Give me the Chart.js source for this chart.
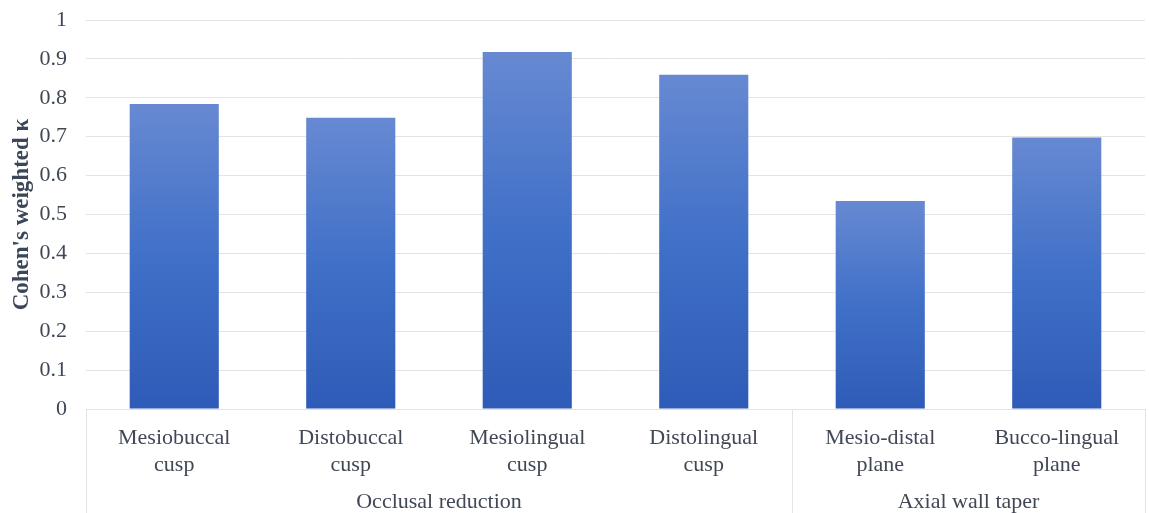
<!DOCTYPE html>
<html>
<head>
<meta charset="utf-8">
<script src="https://cdn.jsdelivr.net/npm/chart.js@4/dist/chart.umd.min.js"></script>
<style>
  html, body { margin: 0; padding: 0; background: #fff; }
  #wrap { width: 1149px; height: 513px; }
</style>
</head>
<body>
<div id="wrap"><canvas id="chart" width="1149" height="513"></canvas></div>
<script>
// categories (two-line labels) and the group they belong to
const categories = [
    ['Mesiobuccal', 'cusp'],
    ['Distobuccal', 'cusp'],
    ['Mesiolingual', 'cusp'],
    ['Distolingual', 'cusp'],
    ['Mesio-distal', 'plane'],
    ['Bucco-lingual', 'plane']
];
const groupNames = ['Occlusal reduction', 'Axial wall taper'];
const groupSizes = [4, 2];

// Cohen's weighted kappa per category
const kappaValues = [0.784, 0.749, 0.918, 0.859, 0.535, 0.698];

const yTicks = [0, 0.1, 0.2, 0.3, 0.4, 0.5, 0.6, 0.7, 0.8, 0.9, 1];

const textColor = '#404856';
const gridColor = '#e3e3e3';
const serif = "'Liberation Serif', 'Times New Roman', serif";

// each bar gets its own top-to-bottom gradient, like the Excel fill
function barGradient(context) {
    const chart = context.chart;
    const y = chart.scales.y;
    if (!chart.chartArea || !y || context.raw === undefined) return '#4472c4';
    const top = y.getPixelForValue(context.raw);
    const base = y.getPixelForValue(0);
    const g = chart.ctx.createLinearGradient(0, top, 0, base);
    g.addColorStop(0, '#6789d2');
    g.addColorStop(0.5, '#4070c8');
    g.addColorStop(1, '#2e5bb7');
    return g;
}

// draws the second row of x labels (group names) and the separator lines
const groupAxis = {
    id: 'groupAxis',
    afterDraw(chart) {
        const { ctx, scales: { x }, chartArea } = chart;
        const bottom = chart.height;
        const half = (x.getPixelForValue(1) - x.getPixelForValue(0)) / 2;
        ctx.save();
        ctx.strokeStyle = gridColor;
        ctx.lineWidth = 1;
        let start = 0;
        const edges = [x.getPixelForValue(0) - half];
        groupSizes.forEach((n, gi) => {
            const left = x.getPixelForValue(start) - half;
            const right = x.getPixelForValue(start + n - 1) + half;
            edges.push(right);
            ctx.fillStyle = textColor;
            ctx.font = '22px ' + serif;
            ctx.textAlign = 'center';
            ctx.textBaseline = 'middle';
            ctx.fillText(groupNames[gi], (left + right) / 2, 502);
            start += n;
        });
        edges.forEach(px => {
            const xx = Math.round(px) + 0.5;
            ctx.beginPath();
            ctx.moveTo(xx, chartArea.bottom);
            ctx.lineTo(xx, bottom);
            ctx.stroke();
        });
        ctx.restore();
    }
};

new Chart(document.getElementById('chart'), {
    type: 'bar',
    data: {
        labels: categories,
        datasets: [{
            label: "Cohen's weighted κ",
            data: kappaValues,
            backgroundColor: barGradient,
            borderWidth: 0,
            categoryPercentage: 1,
            barPercentage: 0.505
        }]
    },
    options: {
        responsive: false,
        animation: false,
        layout: { padding: { top: 20, right: 4, left: 0, bottom: 0 } },
        plugins: {
            legend: { display: false },
            tooltip: { enabled: false }
        },
        scales: {
            y: {
                min: 0,
                max: 1,
                afterBuildTicks: s => { s.ticks = yTicks.map(v => ({ value: v })); },
                afterFit: s => {
                    s.width = 86;
                    s.paddingTop = 0;
                    s.paddingBottom = 0;
                },
                border: { display: false },
                grid: { color: gridColor, drawTicks: false },
                ticks: {
                    color: textColor,
                    padding: 19,
                    font: { family: serif, size: 22 },
                    callback: v => String(v)
                },
                title: {
                    display: true,
                    text: "Cohen's weighted κ",
                    color: '#3b4759',
                    padding: { top: 8, bottom: 0 },
                    font: { family: serif, size: 23, weight: 'bold' }
                }
            },
            x: {
                afterFit: s => {
                    s.height = 104;
                    s.paddingLeft = 0;
                    s.paddingRight = 0;
                },
                border: { display: true, color: gridColor },
                grid: { display: false },
                ticks: {
                    color: textColor,
                    padding: 8,
                    maxRotation: 0,
                    autoSkip: false,
                    font: { family: serif, size: 22, lineHeight: 1.23 }
                }
            }
        }
    },
    plugins: [groupAxis]
});
</script>
</body>
</html>
